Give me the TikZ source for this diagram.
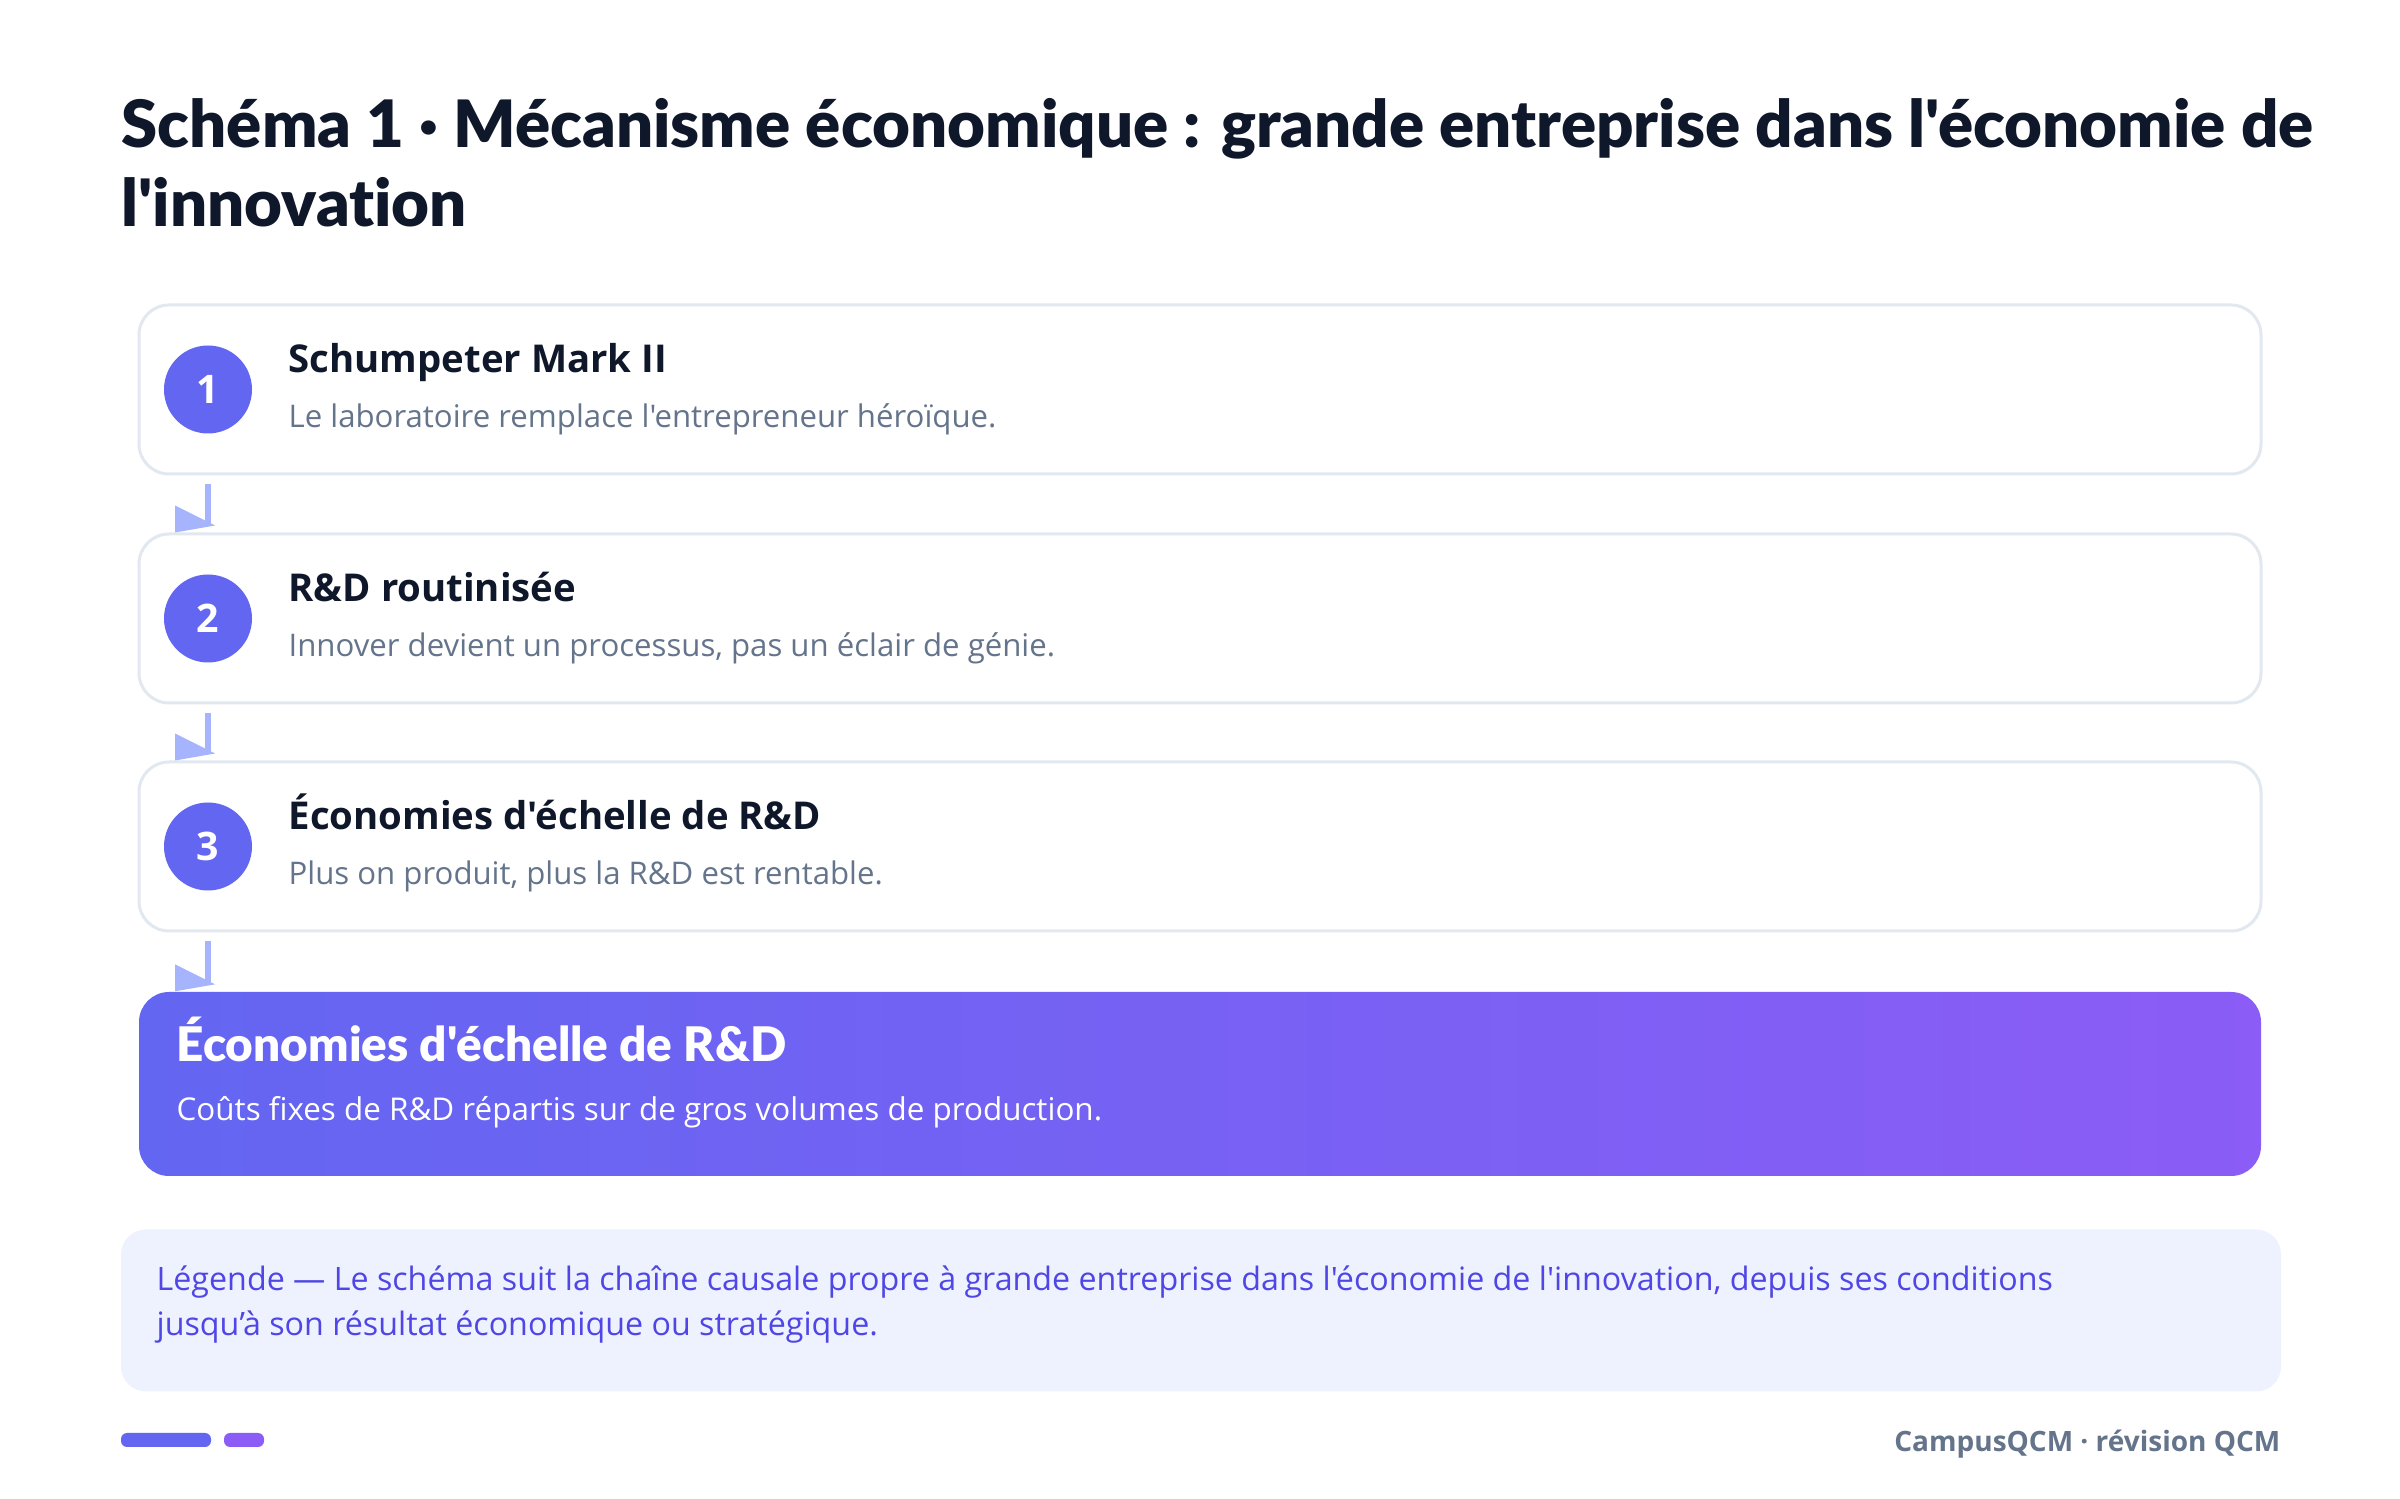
\documentclass[tikz,border=0pt]{standalone}
\usepackage{fontspec}
\IfFontExistsTF{Noto Sans SemiBold}{\setmainfont{Noto Sans}[Ligatures={TeXOff,NoCommon},BoldFont={Noto Sans SemiBold}]}{%
 \IfFontExistsTF{Noto Sans Bold}{\setmainfont{Noto Sans}[Ligatures={TeXOff,NoCommon},BoldFont={Noto Sans Bold}]}{%
  \IfFontExistsTF{Open Sans SemiBold}{\setmainfont{Open Sans}[Ligatures={TeXOff,NoCommon},BoldFont={Open Sans SemiBold}]}{%
   \IfFontExistsTF{Open Sans Bold}{\setmainfont{Open Sans}[Ligatures={TeXOff,NoCommon},BoldFont={Open Sans Bold}]}{%
    \setmainfont{Fira Sans}[Ligatures={TeXOff,NoCommon}]}}}}
\IfFontExistsTF{Noto Sans Black}{\newfontfamily\heavyfont{Noto Sans Black}[Ligatures={TeXOff,NoCommon}]}{%
 \IfFontExistsTF{Open Sans ExtraBold}{\newfontfamily\heavyfont{Open Sans ExtraBold}[Ligatures={TeXOff,NoCommon}]}{%
  \IfFontExistsTF{Lato Black}{\newfontfamily\heavyfont{Lato Black}[Ligatures={TeXOff,NoCommon}]}{%
   \IfFontExistsTF{Fira Sans Black}{\newfontfamily\heavyfont{Fira Sans Black}[Ligatures={TeXOff,NoCommon}]}{%
    \newfontfamily\heavyfont{DejaVu Sans Bold}[Ligatures={TeXOff,NoCommon}]}}}}
\usetikzlibrary{calc}
\definecolor{ink}{HTML}{0F172A}
\definecolor{muted}{HTML}{64748B}
\definecolor{bordergray}{HTML}{E2E8F0}
\definecolor{indigoc}{HTML}{6366F1}
\definecolor{violetc}{HTML}{8B5CF6}
\definecolor{arrowc}{HTML}{A5B4FC}
\definecolor{legendbg}{HTML}{EEF2FF}
\definecolor{legendtxt}{HTML}{4F46E5}
\def\pxu{0.3pt}
\tikzset{
  card/.style={draw=bordergray, line width=3*\pxu, fill=white, rounded corners=30*\pxu,
    minimum width=2122*\pxu, minimum height=169*\pxu, inner sep=0pt},
  finalcard/.style={rounded corners=30*\pxu, left color=indigoc, right color=violetc,
    minimum width=2122*\pxu, minimum height=184*\pxu, inner sep=0pt},
  numdot/.style={circle, fill=indigoc, minimum size=88*\pxu, inner sep=0pt,
    text=white, font=\fontsize{11.8}{14}\selectfont\bfseries},
  ctitle/.style={anchor=base west, inner sep=0pt, text=ink, font=\fontsize{11.5}{14}\selectfont\bfseries},
  csub/.style={anchor=base west, inner sep=0pt, text=muted, font=\fontsize{9.35}{11}\selectfont},
  flowline/.style={draw=arrowc, line width=6*\pxu},
  flowtip/.style={fill=arrowc},
  titletext/.style={anchor=base west, inner sep=0pt, text=ink, font=\fontsize{19.6}{23}\heavyfont},
  legtext/.style={anchor=base west, inner sep=0pt, text=legendtxt, font=\fontsize{9.67}{13}\selectfont},
}
\begin{document}
\begin{tikzpicture}[x=0.3pt,y=-0.3pt]
\useasboundingbox (0,0) rectangle (2400,1499);
\fill[white] (0,0) rectangle (2400,1499);

% title
\node[titletext] (ttl1) at (121,148) {Schéma 1 · Mécanisme économique : grande entreprise dans l'économie de};
\node[titletext] (ttl2) at (121,227) {l'innovation};

% cards
\node[card] (c1) at (1200,389.5) {};
\node[card] (c2) at (1200,618.5) {};
\node[card] (c3) at (1200,846.5) {};
\node[finalcard] (c4) at (1200,1084) {};

\node[numdot] (n1) at (208,389.5) {1};
\node[numdot] (n2) at (208,618.5) {2};
\node[numdot] (n3) at (208,846.5) {3};

\node[ctitle] (t1) at (288,373) {Schumpeter Mark II};
\node[csub] (s1) at (288,428) {Le laboratoire remplace l'entrepreneur héroïque.};
\node[ctitle] (t2) at (288,602) {R\&D routinisée};
\node[csub] (s2) at (288,657) {Innover devient un processus, pas un éclair de génie.};
\node[ctitle] (t3) at (288,830) {Économies d'échelle de R\&D};
\node[csub] (s3) at (288,885) {Plus on produit, plus la R\&D est rentable.};

\node[ctitle, text=white, font=\fontsize{14.3}{17}\heavyfont] (t4) at (176,1062) {Économies d'échelle de R\&D};
\node[csub, text=white, font=\fontsize{9.42}{11}\selectfont] (s4) at (176,1121) {Coûts fixes de R\&D répartis sur de gros volumes de production.};

% connectors
\foreach \a/\b in {c1/c2, c2/c3, c3/c4}{
  \draw[flowline] ([yshift=-9*\pxu]\a.south -| n1.center) -- ([yshift=7*\pxu]\b.north -| n1.center);
  \fill[flowtip] (\b.north -| n1.center) ++(-33,-27) -- ++(0,27) -- ++(40,-7) -- cycle;
}

% legend
\node[fill=legendbg, rounded corners=25*\pxu, minimum width=2160*\pxu, minimum height=162*\pxu, inner sep=0pt] (leg) at (1201,1310.5) {};
\node[legtext] (legt1) at (156,1291) {Légende — Le schéma suit la chaîne causale propre à grande entreprise dans l'économie de l'innovation, depuis ses conditions};
\node[legtext] (legt2) at (156,1336) {jusqu’à son résultat économique ou stratégique.};

% footer
\fill[indigoc, rounded corners=6*\pxu] (121,1433) rectangle (211,1447);
\fill[violetc, rounded corners=6*\pxu] (224,1433) rectangle (264,1447);
\node[anchor=base east, inner sep=0pt, text=muted, font=\fontsize{8.4}{10}\selectfont\bfseries] (foot) at (2281,1451) {CampusQCM · révision QCM};
\end{tikzpicture}
\end{document}
